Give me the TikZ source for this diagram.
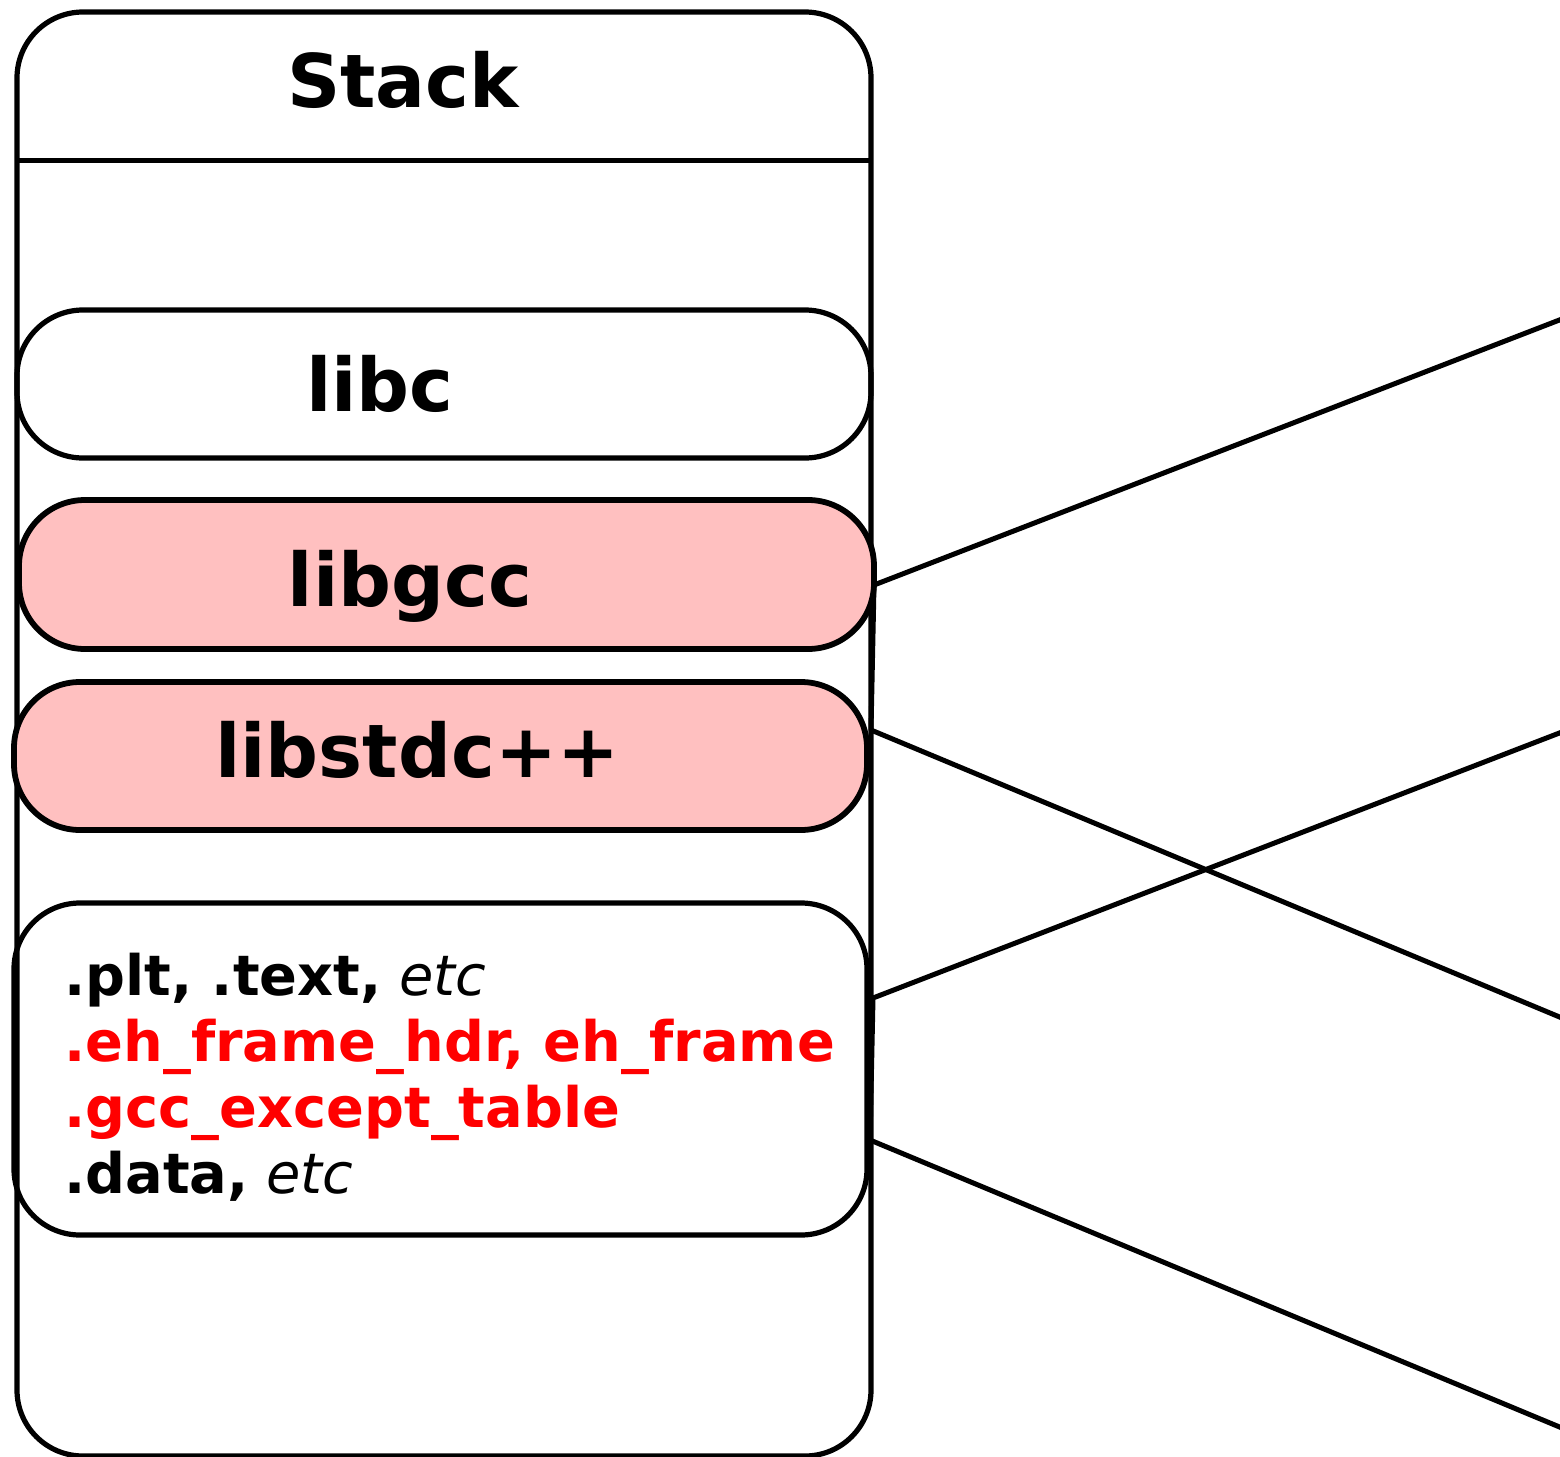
\documentclass[tikz,border=0pt]{standalone}
\usepackage{fontspec}
\setmainfont{DejaVu Sans}
\usetikzlibrary{calc}
\definecolor{libpink}{HTML}{FFC0C0}
\definecolor{secred}{HTML}{FF0000}
\tikzset{
  segbox/.style={draw=black, line width=2.6pt, rounded corners=33pt, inner sep=0pt, outer sep=0pt},
  libtext/.style={font=\fontsize{37pt}{40pt}\selectfont\bfseries, inner sep=0pt, anchor=base},
  wire/.style={draw=black, line width=2.5pt, line join=round}
}
\begin{document}
\begin{tikzpicture}[x=0.5pt, y=-0.5pt]
  \useasboundingbox (0,0) rectangle (1560,1457);
  % whole address space
  \node[segbox, minimum width=427pt, minimum height=722pt] (stack) at (444,734) {};
  \draw[line width=2.5pt] (stack.west |- 0,160) -- (stack.east |- 0,160);
  \node[libtext] (stacktitle) at (403,107) {Stack};
  % mapped libraries
  \node[segbox, minimum width=427pt, minimum height=74pt] (libc) at (444,384) {};
  \node[libtext] (libctext) at (380,411) {libc};
  \node[segbox, fill=libpink, line width=2.9pt, minimum width=427.5pt, minimum height=74.5pt] (libgcc) at (446.5,574.5) {};
  \node[libtext] (libgcctext) at (410,606) {libgcc};
  \node[segbox, fill=libpink, line width=2.9pt, minimum width=426.5pt, minimum height=74pt] (libstdcxx) at (440.5,756) {};
  \node[libtext] (libstdcxxtext) at (417,777) {libstdc++};
  % program sections
  \node[segbox, minimum width=426.5pt, minimum height=166pt] (sections) at (440.5,1069) {};
  \node[inner sep=0pt, anchor=base west, align=left,
        font=\fontsize{27.9pt}{33pt}\selectfont] (sectext) at (64,1193)
    {\textbf{.plt, .text,} \textit{etc}\\
     \textcolor{secred}{\textbf{.eh\_frame\_hdr, eh\_frame}}\\
     \textcolor{secred}{\textbf{.gcc\_except\_table}}\\
     \textbf{.data,} \textit{etc}};
  % projection lines
  \coordinate (gccR) at (874,585);
  \coordinate (cxxR) at (871,730);
  \coordinate (secTopR) at (873,998);
  \coordinate (secBotR) at (870,1140);
  \coordinate (far1) at (1562,319);
  \coordinate (far2) at (1562,1018);
  \coordinate (far3) at (1562,732);
  \coordinate (far4) at (1562,1428);
  \draw[wire] (far1) -- (gccR) -- (cxxR) -- (far2);
  \draw[wire] (far3) -- (secTopR) -- (secBotR) -- (far4);
\end{tikzpicture}
\end{document}
